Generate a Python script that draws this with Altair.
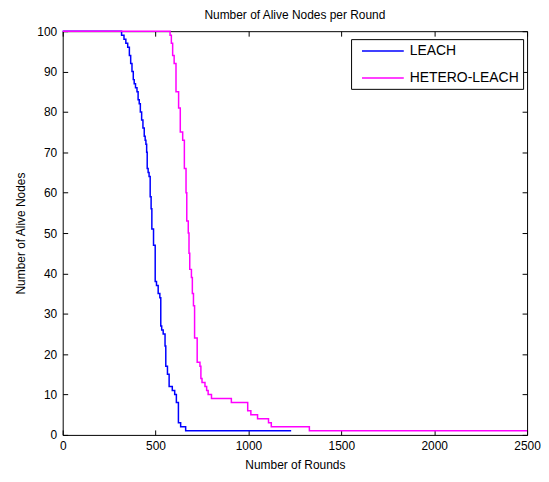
import altair as alt
import pandas as pd

# LEACH: round at which alive count changes, and the count from then on
leach_rounds = [0, 317, 330, 340, 350, 359, 366, 373, 380, 385, 392, 400, 406, 412, 418, 425, 432, 439, 444,
                448, 452, 455, 460, 465, 471, 476, 480, 489, 498, 505, 514, 523, 528, 533, 541, 551, 555, 564,
                573, 590, 603, 612, 623, 635, 662, 1230]
leach_alive = [100, 99, 98, 97, 96, 94, 92, 90, 88, 87, 86, 85, 83, 82, 80, 78, 76, 74, 73,
               72, 70, 66, 65, 64, 59, 56, 51, 47, 38, 37, 35, 34, 27, 26, 25, 22, 17, 15,
               12, 11, 10, 8, 3, 2, 1, 1]

hetero_rounds = [0, 578, 585, 592, 600, 610, 624, 633, 646, 655, 664, 668, 676, 680, 684, 693, 698, 704,
                 710, 724, 739, 744, 750, 766, 775, 783, 801, 908, 996, 1013, 1049, 1108, 1123, 1328, 2500]
hetero_alive = [100, 99, 97, 94, 92, 85, 81, 75, 73, 66, 60, 53, 50, 45, 41, 39, 35, 32,
                24, 18, 17, 14, 13, 12, 11, 10, 9, 8, 6, 5, 4, 3, 2, 1, 1]

series_names = ["LEACH", "HETERO-LEACH"]
series_colors = ["#0000ff", "#ff00ff"]
x_ticks = [0, 500, 1000, 1500, 2000, 2500]
y_ticks = [0, 10, 20, 30, 40, 50, 60, 70, 80, 90, 100]

df = pd.concat([
    pd.DataFrame({"round": leach_rounds, "alive": leach_alive, "series": series_names[0]}),
    pd.DataFrame({"round": hetero_rounds, "alive": hetero_alive, "series": series_names[1]}),
])

FONT = "Liberation Sans"

xscale = alt.Scale(domain=[0, 2500], nice=False)
yscale = alt.Scale(domain=[0, 100], nice=False)

lines = alt.Chart(df).mark_line(interpolate="step-after", strokeWidth=1.5).encode(
    x=alt.X("round:Q", scale=xscale,
            axis=alt.Axis(values=x_ticks, format="d", title="Number of Rounds", grid=False, domain=False,
                          tickSize=5, offset=-5, labelPadding=6, titlePadding=8, labelFlush=False,
                          tickColor="black", labelColor="black", titleColor="black")),
    y=alt.Y("alive:Q", scale=yscale,
            axis=alt.Axis(values=y_ticks, title="Number of Alive Nodes", grid=False, domain=False,
                          tickSize=5, offset=-5, labelPadding=6, titlePadding=9, labelFlush=False,
                          tickColor="black", labelColor="black", titleColor="black")),
    color=alt.Color("series:N", sort=series_names,
                    scale=alt.Scale(domain=series_names, range=series_colors),
                    legend=alt.Legend(title=None, orient="none", legendX=290, legendY=8,
                                      strokeColor="black", fillColor="white", padding=4,
                                      symbolType="M-0.143,0L5.857,0", symbolSize=196,
                                      symbolStrokeWidth=1.5,
                                      labelFontSize=14, labelFont=FONT, labelOffset=39,
                                      labelColor="black", rowPadding=12)),
)

frame = alt.Chart(df).mark_point(opacity=0).encode(
    x=alt.X("round:Q", scale=xscale,
            axis=alt.Axis(orient="top", values=x_ticks, title=None, labels=False, grid=False,
                          domain=False, tickSize=5, offset=-5, tickColor="black")),
    y=alt.Y("alive:Q", scale=yscale,
            axis=alt.Axis(orient="right", values=y_ticks, title=None, labels=False, grid=False,
                          domain=False, tickSize=5, offset=-5, tickColor="black")),
)

chart = alt.layer(lines, frame).resolve_scale(x="independent", y="independent").properties(
    width=467, height=406,
    title=alt.TitleParams("Number of Alive Nodes per Round", fontSize=12, font=FONT,
                          fontWeight="normal", color="black", offset=3),
    autosize=alt.AutoSizeParams(type="none"),
    padding={"left": 55, "top": 22, "right": 14, "bottom": 36},
).configure_view(stroke="black", strokeWidth=1).configure_axis(
    labelFont=FONT, titleFont=FONT, labelFontSize=12, titleFontSize=12, titleFontWeight="normal"
)

chart.save("out.html", embed_options={"renderer": "svg", "actions": False})
